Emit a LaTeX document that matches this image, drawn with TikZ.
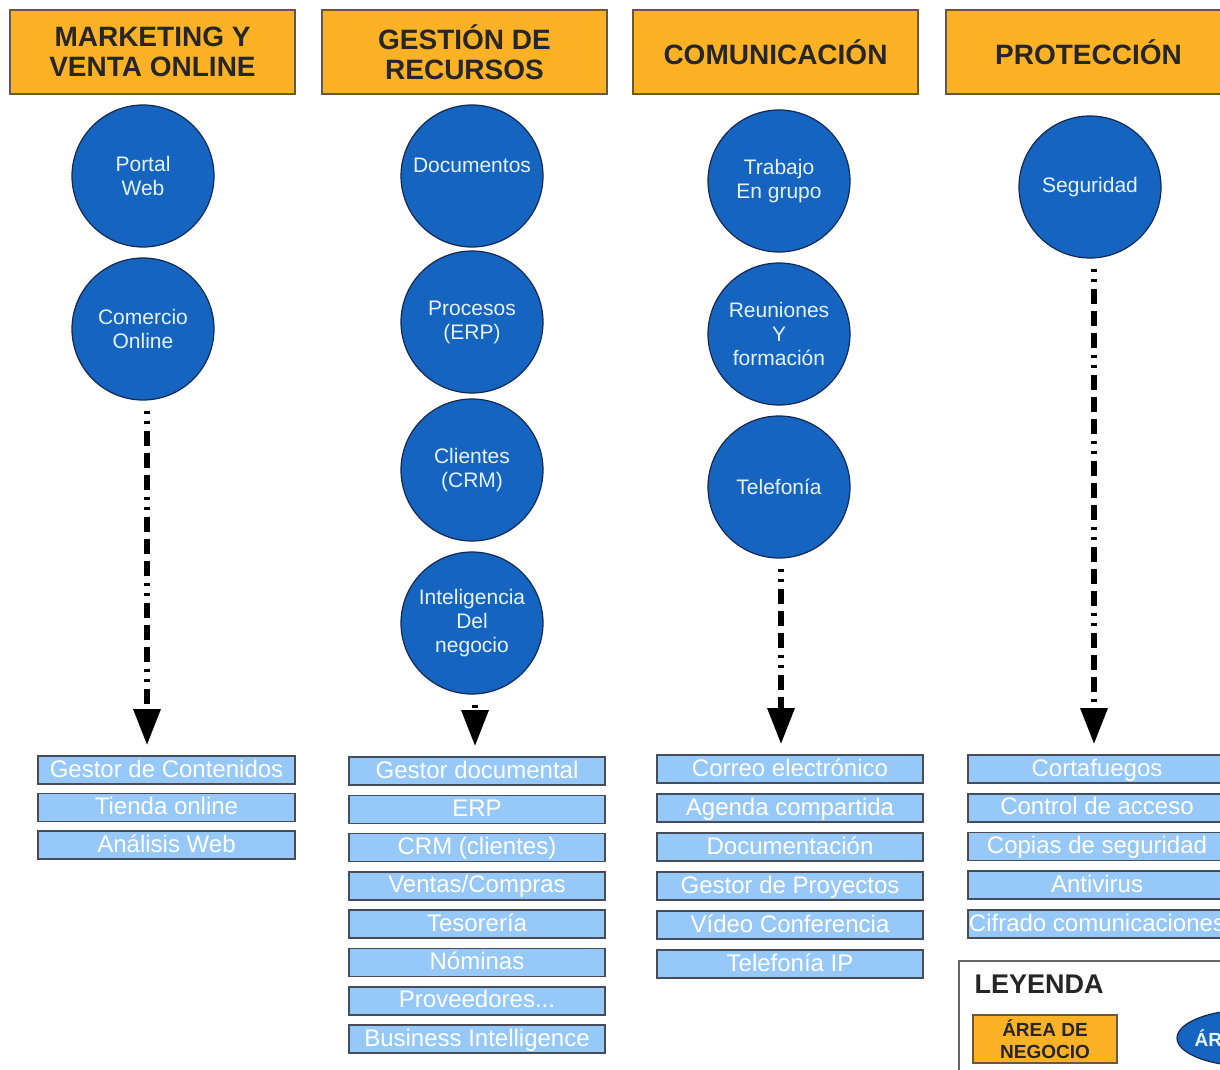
\documentclass[tikz,border=0pt]{standalone}
\usepackage{fontspec}
\setmainfont{Liberation Sans}
\usepackage{xcolor}
\usetikzlibrary{arrows.meta,shapes.geometric}

\definecolor{naranja}{RGB}{253,178,38}
\definecolor{bordeN}{RGB}{105,88,60}
\definecolor{azul}{RGB}{21,101,192}
\definecolor{azulOsc}{RGB}{20,40,80}
\definecolor{azulClaro}{RGB}{230,242,255}
\definecolor{celeste}{RGB}{150,201,250}
\definecolor{bordeL}{RGB}{70,76,88}

\tikzset{
  area/.style={draw=bordeN, line width=1.5pt, fill=naranja, minimum width=285pt,
    minimum height=84pt, align=center, text=black!85,
    font=\fontsize{28}{30}\selectfont\bfseries},
  servicio/.style={circle, draw=azulOsc, line width=1.2pt, fill=azul,
    minimum size=142pt, inner sep=0pt, align=center, text=azulClaro,
    font=\fontsize{21}{24}\selectfont},
  herram/.style={draw=bordeL, line width=1.6pt, fill=celeste, minimum height=28pt,
    inner sep=0pt, text=white, text height=17pt, text depth=3pt,
    font=\fontsize{24}{26}\selectfont},
  flecha/.style={line width=6pt,
    dash pattern=on 3pt off 7pt on 3pt off 7pt on 15pt off 7pt on 15pt off 7pt on 15pt off 7pt,
    -{Triangle[length=36pt,width=26pt]}, shorten <=10pt, shorten >=10pt}
}

\begin{document}
\begin{tikzpicture}[x=1pt,y=-1pt]
\useasboundingbox (0,0) rectangle (1220,1070);
\clip (0,0) rectangle (1220,1070);
\fill[white] (0,0) rectangle (1220,1070);

% areas de negocio
\node[area] (hMk) at (152.5,52) {MARKETING Y\\VENTA ONLINE};
\node[area] (hGr) at (464.5,52) {GESTIÓN DE\\RECURSOS};
\node[area] (hCo) at (775.5,52) {COMUNICACIÓN};
\node[area] (hPr) at (1088.5,52) {PROTECCIÓN};

% areas TIC
\node[servicio] (cPortal) at (143,176) {Portal\\Web};
\node[servicio] (cComercio) at (143,329) {Comercio\\Online};

\node[servicio, text depth=22pt] (cDoc) at (472,176) {Documentos};
\node[servicio] (cProc) at (472,322) {Procesos\\(ERP)};
\node[servicio] (cCli) at (472,470) {Clientes\\(CRM)};
\node[servicio] (cInt) at (472,623) {Inteligencia\\Del\\negocio};

\node[servicio] (cTrab) at (779,181) {Trabajo\\En grupo};
\node[servicio] (cReun) at (779,334) {Reuniones\\Y\\formación};
\node[servicio] (cTel) at (779,487) {Telefonía};

\node[servicio] (cSeg) at (1090,187) {Seguridad};

% herramientas
\foreach \t [count=\i] in {Gestor de Contenidos, Tienda online, Análisis Web}
  \node[herram, minimum width=257pt] (mk-\i) at (166.5,732.5+37.5*\i) {\t};
\foreach \t [count=\i] in {Gestor documental, ERP, CRM (clientes), Ventas/Compras,
    Tesorería, Nóminas, Proveedores.\kern0pt.\kern0pt., Business Intelligence}
  \node[herram, minimum width=256pt] (gr-\i) at (477,732.7+38.3*\i) {\t};
\foreach \t [count=\i] in {Correo electrónico, Agenda compartida, Documentación,
    Gestor de Proyectos, Vídeo Conferencia, Telefonía IP}
  \node[herram, minimum width=266pt] (co-\i) at (790,730+39*\i) {\t};
\foreach \t [count=\i] in {Cortafuegos, Control de acceso, Copias de seguridad,
    Antivirus, Cifrado comunicaciones}
  \node[herram, minimum width=258pt] (pr-\i) at (1097,730.25+38.75*\i) {\t};

% flechas
\draw[flecha] ([xshift=4pt]cComercio.south) -- ([xshift=4pt]cComercio.south |- mk-1.north);
\draw[flecha] ([xshift=3pt]cInt.south) -- ([xshift=3pt]cInt.south |- gr-1.north);
\draw[flecha] ([xshift=2pt]cTel.south) -- ([xshift=2pt]cTel.south |- co-1.north);
\draw[flecha] ([xshift=4pt]cSeg.south) -- ([xshift=4pt]cSeg.south |- pr-1.north);

% leyenda
\node[draw=black!60, line width=1.5pt, fill=white, anchor=north west,
  minimum width=300pt, minimum height=150pt] (leyenda) at (958,960) {};
\node[anchor=base west, font=\fontsize{27}{30}\selectfont\bfseries, text=black!85]
  (leyTit) at (971,993) {LEYENDA};
\node[area, minimum width=144pt, minimum height=48pt,
  font=\fontsize{19}{22}\selectfont\bfseries] (leyArea) at (1045,1039) {ÁREA DE\\NEGOCIO};
\node[ellipse, draw=azulOsc, line width=1.2pt, fill=azul, minimum width=150pt,
  minimum height=57pt] (leyServ) at (1252,1038) {};
\node[anchor=west, inner sep=0pt, text=azulClaro, font=\fontsize{19}{22}\selectfont\bfseries]
  (leyServTxt) at ([xshift=18pt]leyServ.west) {ÁREA};
\end{tikzpicture}
\end{document}
